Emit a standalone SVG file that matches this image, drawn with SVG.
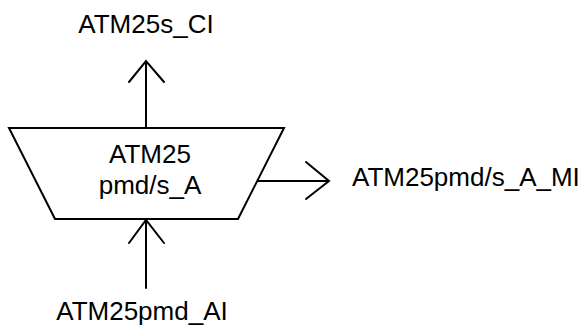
<svg xmlns="http://www.w3.org/2000/svg" width="588" height="325" viewBox="0 0 588 325">
<style>
.s{fill:none;stroke:#000;stroke-width:2;stroke-linecap:round;stroke-linejoin:miter}
.t{font-family:"Liberation Sans",Arial,sans-serif;font-size:26px;fill:#000}
</style>
<rect width="588" height="325" fill="#fff"/>
<g id="node-block">
<polygon class="s" points="9,128 284,128 238,219 55,219"/>
<text class="t" x="150" y="163" text-anchor="middle">ATM25</text>
<text class="t" x="150" y="194" text-anchor="middle">pmd/s_A</text>
</g>
<g id="label-ci"><text class="t" x="146" y="33" text-anchor="middle">ATM25s_CI</text></g>
<g id="label-mi"><text class="t" x="352" y="186">ATM25pmd/s_A_MI</text></g>
<g id="label-ai"><text class="t" x="142" y="320" text-anchor="middle">ATM25pmd_AI</text></g>
<g id="connectors">
<path class="s" d="M146,128 V61 M129,82 L146,61 L164,82"/>
<path class="s" d="M146,288 V220 M129,243 L146,220 L164,243"/>
<path class="s" d="M258,181 H329 M306,162 L329,181 L306,199"/>
</g>
</svg>
